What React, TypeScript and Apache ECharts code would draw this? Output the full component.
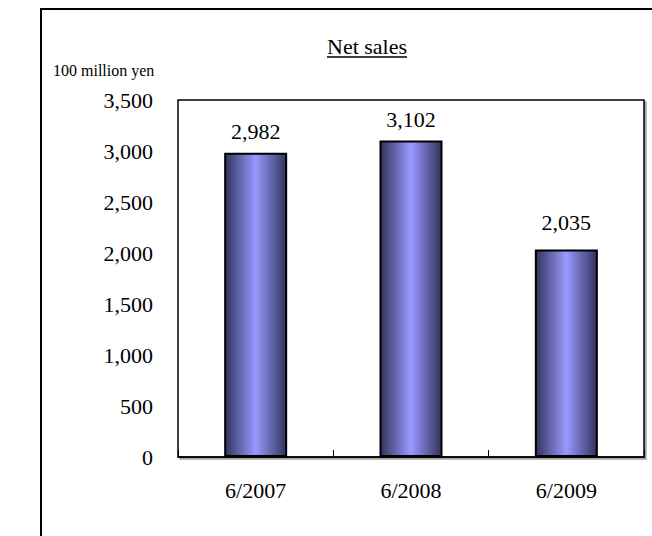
import React, { useEffect, useRef } from "react";
import * as echarts from "echarts";

const categories = ["6/2007", "6/2008", "6/2009"];
const netSales = [2982, 3102, 2035];
const yTicks = { min: 0, max: 3500, interval: 500 };
const titleText = "Net sales";
const unitText = "100 million yen";

const FONT = "Liberation Serif";
const fmt = (v: number) => v.toLocaleString("en-US");

export default function App() {
  const ref = useRef<HTMLDivElement>(null);
  useEffect(() => {
    if (!ref.current) return;
    const chart = echarts.init(ref.current, undefined, { renderer: "svg" });
    chart.setOption({
      animation: false,
      backgroundColor: "#fff",
      textStyle: { fontFamily: FONT, color: "#000" },
      title: {
        text: titleText,
        left: 327,
        top: 35,
        padding: 0,
        textStyle: { fontFamily: FONT, fontSize: 22, fontWeight: "normal", color: "#000" },
      },
      graphic: [
        {
          type: "rect",
          shape: { x: 41, y: 9, width: 800, height: 700 },
          style: { fill: "none", stroke: "#000", lineWidth: 2 },
          silent: true,
          z: -1,
        },
        {
          type: "line",
          shape: { x1: 327, y1: 57, x2: 407, y2: 57 },
          style: { stroke: "#000", lineWidth: 1.5 },
          silent: true,
        },
        {
          type: "text",
          x: 53,
          y: 70,
          style: {
            text: unitText,
            fontFamily: FONT,
            fontSize: 16,
            fill: "#000",
            textVerticalAlign: "middle",
          },
          silent: true,
        },
      ],
      grid: {
        left: 178,
        right: 8,
        top: 100,
        bottom: 79,
        show: true,
        backgroundColor: "#fff",
        borderColor: "#000",
        borderWidth: 1.5,
        shadowColor: "rgba(0,0,0,0.35)",
        shadowOffsetX: 2,
        shadowOffsetY: 2,
        shadowBlur: 1,
      },
      xAxis: {
        type: "category",
        data: categories,
        axisLine: { show: true, lineStyle: { color: "#000", width: 1.5 } },
        axisTick: { show: true, inside: true, length: 7, lineStyle: { color: "#000" } },
        axisLabel: { fontFamily: FONT, fontSize: 22, color: "#000", margin: 22 },
        splitLine: { show: false },
      },
      yAxis: {
        type: "value",
        min: yTicks.min,
        max: yTicks.max,
        interval: yTicks.interval,
        axisLine: { show: false },
        axisTick: { show: false },
        splitLine: { show: false },
        axisLabel: {
          fontFamily: FONT,
          fontSize: 22,
          color: "#000",
          margin: 25,
          formatter: (v: number) => fmt(v),
        },
      },
      series: [
        {
          type: "bar",
          data: netSales.map((v, i) =>
            i === netSales.length - 1 ? { value: v, label: { distance: 16 } } : v
          ),
          barWidth: 63,
          itemStyle: {
            color: new echarts.graphic.LinearGradient(0, 0, 1, 0, [
              { offset: 0, color: "#33335f" },
              { offset: 0.5, color: "#9999ff" },
              { offset: 1, color: "#33335f" },
            ]),
            borderColor: "#000",
            borderWidth: 2,
          },
          label: {
            show: true,
            position: "top",
            distance: 10,
            fontFamily: FONT,
            fontSize: 22,
            color: "#000",
            formatter: (p: any) => fmt(p.value),
          },
        },
      ],
    });
    return () => chart.dispose();
  }, []);
  return (
    <div
      ref={ref}
      style={{ position: "absolute", left: 0, top: 0, width: 652, height: 536 }}
    />
  );
}
